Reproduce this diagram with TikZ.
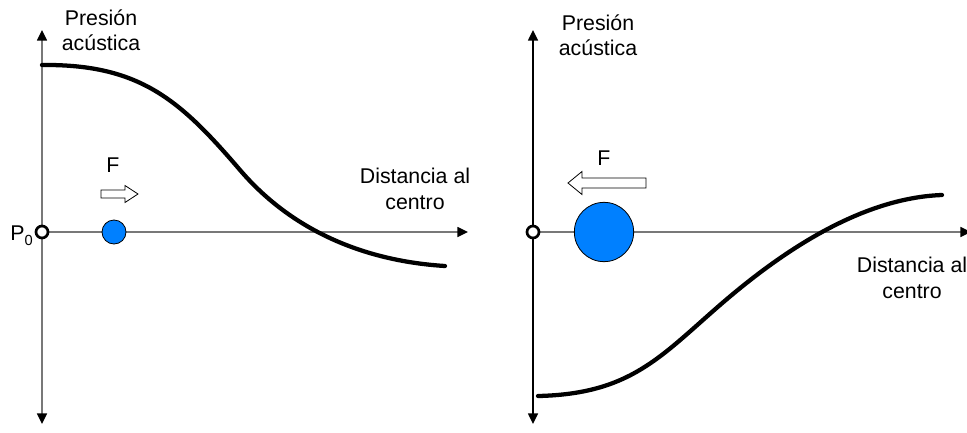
\documentclass[tikz,border=0pt]{standalone}
\usepackage{fontspec}
\setmainfont{Liberation Sans}
\usetikzlibrary{arrows.meta}
\definecolor{ballblue}{RGB}{0,128,255}
\definecolor{axisgray}{RGB}{120,120,120}
\begin{document}
\begin{tikzpicture}[x=0.75pt,y=-0.75pt,
  lbl/.style={font=\fontsize{16}{19}\selectfont, align=center, inner sep=0pt},
  axis/.style={line width=1.1pt, -{Triangle[length=8pt,width=7.5pt,color=black]}},
  origin/.style={circle, draw=black, fill=white, line width=2pt, minimum size=9pt, inner sep=0pt},
  ball/.style={circle, draw=black, fill=ballblue, line width=0.6pt, inner sep=0pt},
  curve/.style={line width=3.2pt, line cap=round},
  force/.style={draw=black, fill=white, line width=0.6pt}]
\useasboundingbox (0,0) rectangle (967,432);

% ---------- left panel ----------
\coordinate (Lo) at (42,232);
\coordinate (Ltop) at (42,30);
\coordinate (Lbot) at (42,424);
\coordinate (Lright) at (468,232);
\draw[axis, axisgray] (Lo) -- (Lright);
\draw[axis, axisgray] (Lo) -- (Ltop);
\draw[axis, axisgray] (Lo) -- (Lbot);
\node[origin] (Lorig) at (Lo) {};
\node[ball, minimum size=18pt] (Lball) at (114,232) {};
\node[lbl, anchor=east] (P0) at (33,236) {P\raisebox{-0.45ex}{\fontsize{11}{11}\selectfont 0}};
\node[lbl] (LF) at (113,165) {F};
\draw[force] (101,190) -- (125,190) -- (125,185.5) -- (138,194) -- (125,202.5) -- (125,198) -- (101,198) -- cycle;
\node[lbl] (Lylab) at (101,30) {Presión\\acústica};
\node[lbl] (Lxlab) at (415,189) {Distancia al\\centro};
\draw[curve] (42,65) .. controls (140,64) and (180,100) .. (240,170)
                    .. controls (300,240) and (380,262) .. (445,266);

% ---------- right panel ----------
\coordinate (Ro) at (533,232);
\coordinate (Rtop) at (533,30);
\coordinate (Rbot) at (533,424);
\coordinate (Rright) at (971,232);
\draw[axis, axisgray] (Ro) -- (Rright);
\draw[axis, black] (Ro) -- (Rtop);
\draw[axis, black] (Ro) -- (Rbot);
\node[origin] (Rorig) at (Ro) {};
\node[ball, minimum size=44.5pt] (Rball) at (604,232) {};
\node[lbl] (RF) at (604,158) {F};
\draw[force] (646,178) -- (582,178) -- (582,171.5) -- (568,183) -- (582,194.5) -- (582,188) -- (646,188) -- cycle;
\node[lbl] (Rylab) at (598,35) {Presión\\acústica};
\node[lbl] (Rxlab) at (912,278) {Distancia al\\centro};
\draw[curve] (538,396) .. controls (630,394) and (660,357) .. (720,305)
                      .. controls (780,253) and (860,198) .. (942,195);
\end{tikzpicture}
\end{document}
